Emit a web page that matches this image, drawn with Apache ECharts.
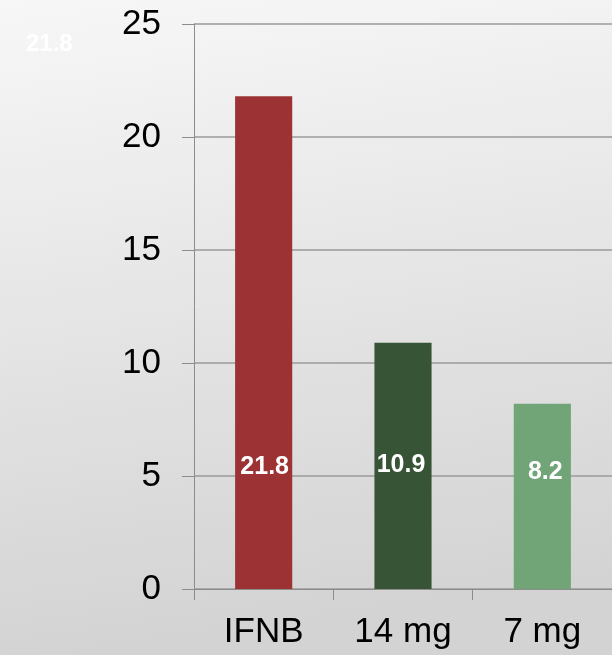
<!DOCTYPE html>
<html>
<head>
<meta charset="utf-8">
<script src="https://cdn.jsdelivr.net/npm/echarts@6/dist/echarts.min.js"></script>
<style>
html,body{margin:0;padding:0;}
#chart{width:612px;height:655px;}
</style>
</head>
<body>
<div id="chart"></div>
<script>
var categories = ['IFNB', '14 mg', '7 mg'];
var values = [21.8, 10.9, 8.2];
var valueLabels = ['21.8', '10.9', '8.2'];
var yTicks = [0, 5, 10, 15, 20, 25];
var strayLabel = '21.8';

var barColors = ['#9c3233', '#375437', '#71a477'];
var labelDistances = [109, 111, 104];
var labelOffsets = [[1, 0], [-2, 0], [3, 0]];

var chart = echarts.init(document.getElementById('chart'), null, {renderer: 'canvas'});
chart.setOption({
  animation: false,
  backgroundColor: {
    type: 'linear', x: 0, y: 0, x2: 0.15, y2: 1,
    colorStops: [{offset: 0, color: '#f7f7f7'}, {offset: 1, color: '#d3d3d3'}]
  },
  grid: {left: 194, right: 0, top: 24, bottom: 66, containLabel: false},
  xAxis: {
    type: 'category',
    data: categories,
    axisLine: {show: true, lineStyle: {color: '#8c8c8c', width: 1}},
    axisTick: {show: true, length: 11, alignWithLabel: false, lineStyle: {color: '#8c8c8c'}},
    axisLabel: {color: '#000', fontSize: 35, fontFamily: 'Liberation Sans, Arial, sans-serif', margin: 26}
  },
  yAxis: {
    type: 'value',
    min: yTicks[0], max: yTicks[yTicks.length - 1], interval: yTicks[1] - yTicks[0],
    axisLine: {show: true, lineStyle: {color: '#8c8c8c', width: 1}},
    axisTick: {show: true, length: 12, lineStyle: {color: '#8c8c8c'}},
    splitLine: {show: true, lineStyle: {color: '#9a9a9a', width: 1.5}},
    axisLabel: {color: '#000', fontSize: 35, fontFamily: 'Liberation Sans, Arial, sans-serif', margin: 33}
  },
  series: [{
    type: 'bar',
    barWidth: '41%',
    data: values.map(function (v, i) {
      return {
        value: v,
        itemStyle: {color: barColors[i]},
        label: {
          show: true,
          position: 'insideBottom',
          distance: labelDistances[i],
          offset: labelOffsets[i],
          formatter: valueLabels[i],
          color: '#fff',
          fontSize: 25,
          fontWeight: 'bold',
          fontFamily: 'Liberation Sans, Arial, sans-serif'
        }
      };
    })
  }],
  graphic: [{
    type: 'text',
    left: 26, top: 32,
    style: {
      text: strayLabel,
      fill: '#ffffff',
      fontSize: 24,
      fontWeight: 'bold',
      fontFamily: 'Liberation Sans, Arial, sans-serif'
    }
  }]
});
</script>
</body>
</html>
